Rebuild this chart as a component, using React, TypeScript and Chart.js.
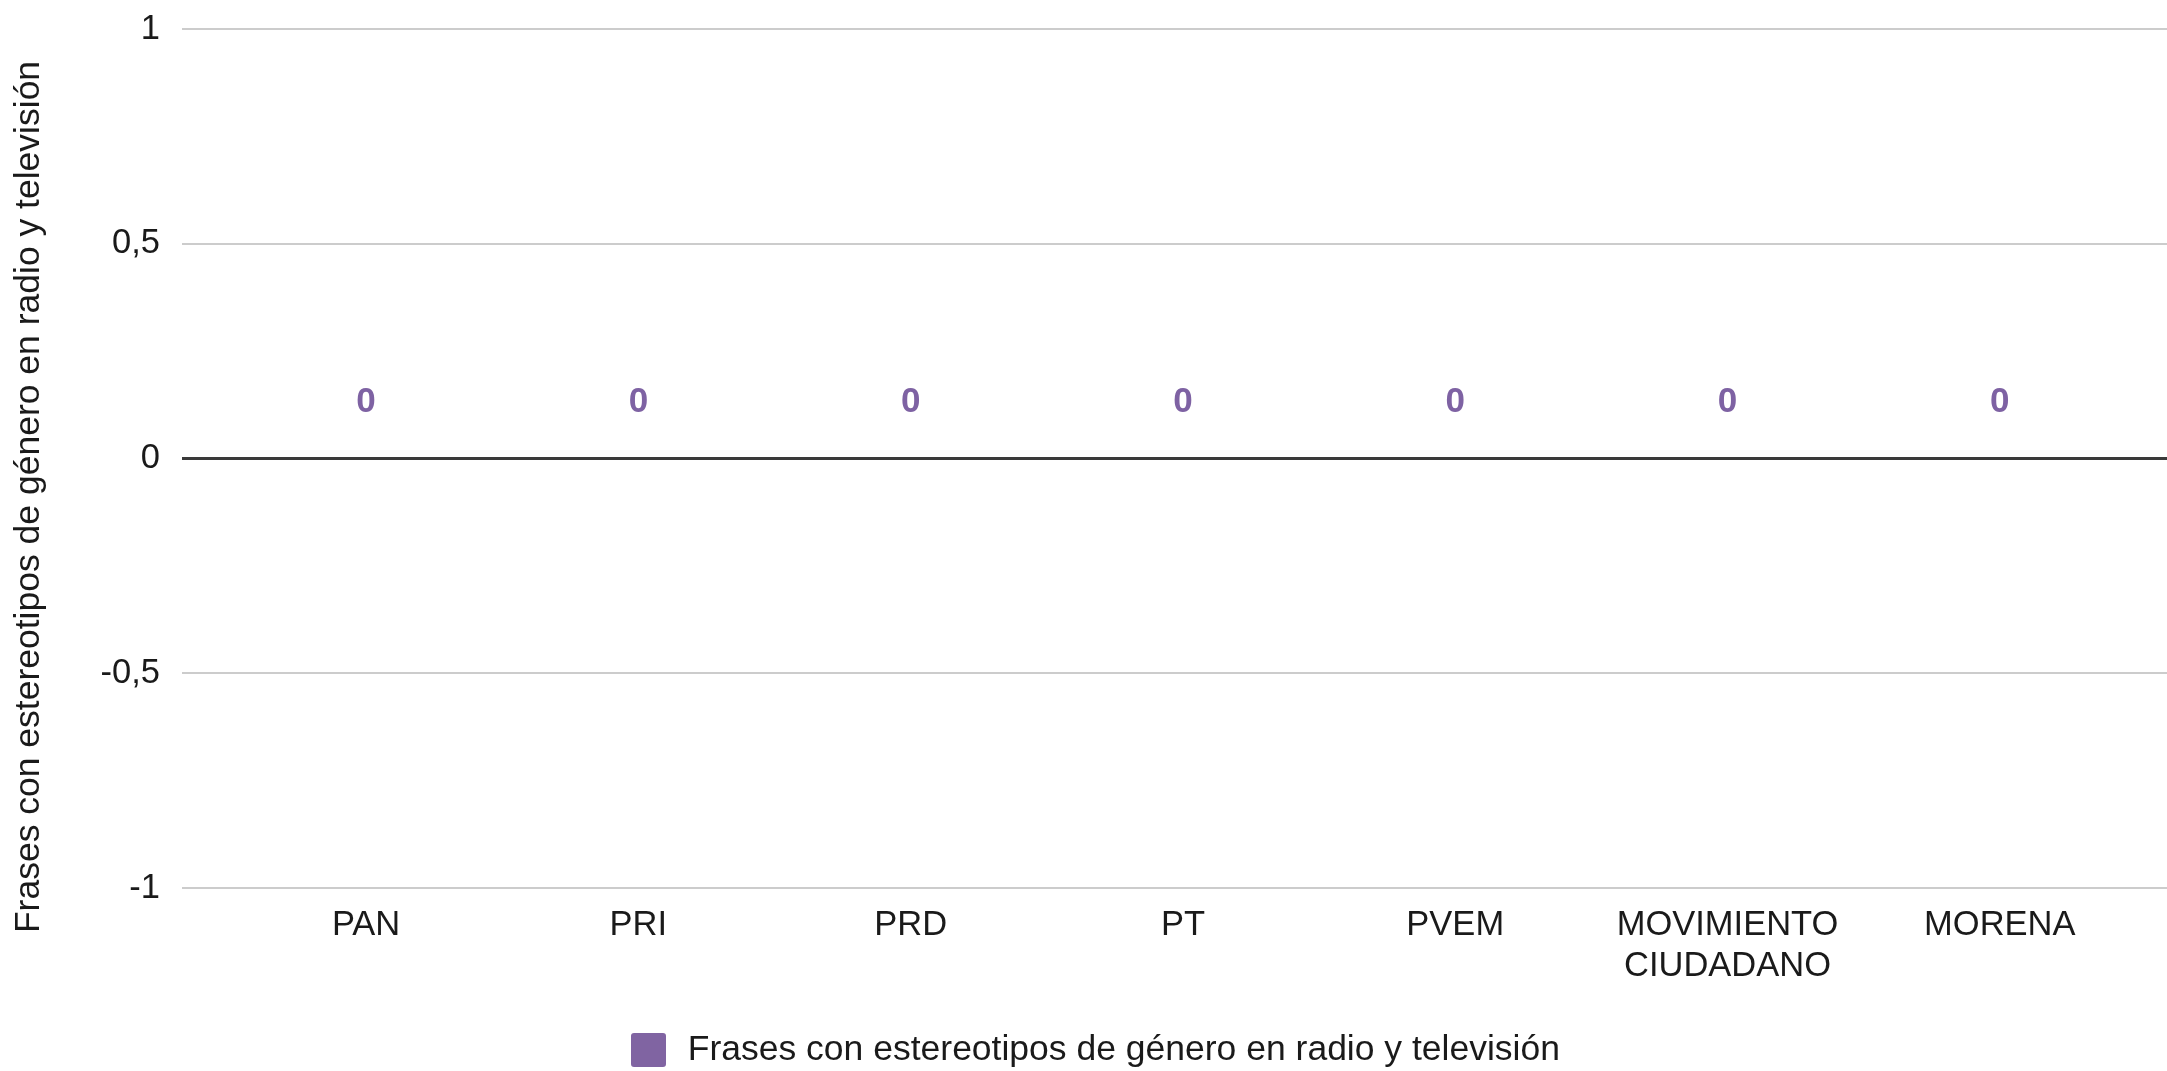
import React, { useEffect, useRef } from 'react';
import { Chart, registerables } from 'chart.js';

Chart.register(...registerables);

// ---- data ----
const categories: (string | string[])[] = [
  'PAN',
  'PRI',
  'PRD',
  'PT',
  'PVEM',
  ['MOVIMIENTO', 'CIUDADANO'],
  'MORENA',
];
const seriesName = 'Frases con estereotipos de género en radio y televisión';
const values: number[] = [0, 0, 0, 0, 0, 0, 0];
const yTickValues: number[] = [-1, -0.5, 0, 0.5, 1];
const yAxisTitle = 'Frases con estereotipos de género en radio y televisión';

// ---- style ----
const FONT = "'Liberation Sans', Arial, Helvetica, sans-serif";
const PURPLE = '#8064a2';
const LABEL_PURPLE = '#7e62a3';
const TEXT = '#1a1a1a';
const TICK_SIZE = 34.5;
const TITLE_SIZE = 35.5;

const valueLabels = {
  id: 'valueLabels',
  afterDatasetsDraw(chart: any) {
    const ctx = chart.ctx;
    const meta = chart.getDatasetMeta(0);
    ctx.save();
    ctx.font = `bold 35px ${FONT}`;
    ctx.fillStyle = LABEL_PURPLE;
    ctx.textAlign = 'center';
    ctx.textBaseline = 'middle';
    meta.data.forEach((el: any, i: number) => {
      ctx.fillText(String(values[i]).replace('.', ','), el.x, el.y - 56);
    });
    ctx.restore();
  },
};

const yTitlePlugin = {
  id: 'yTitlePlugin',
  afterDraw(chart: any) {
    const ctx = chart.ctx;
    ctx.save();
    ctx.translate(29, 497);
    ctx.rotate(-Math.PI / 2);
    ctx.font = `${TITLE_SIZE}px ${FONT}`;
    ctx.fillStyle = TEXT;
    ctx.textAlign = 'center';
    ctx.textBaseline = 'middle';
    ctx.fillText(yAxisTitle, 0, 0);
    ctx.restore();
  },
};

const legendPlace = {
  id: 'legendPlace',
  beforeDraw(chart: any) {
    const lg = chart.legend;
    if (!lg) return;
    const w = lg.right - lg.left;
    const h = lg.bottom - lg.top;
    lg.left = 627;
    lg.right = 627 + w;
    lg.top = 1029;
    lg.bottom = 1029 + h;
  },
};

export default function App() {
  const ref = useRef<HTMLCanvasElement | null>(null);

  useEffect(() => {
    if (!ref.current) return;
    const chart = new Chart(ref.current, {
      type: 'bar',
      data: {
        datasets: [
          {
            label: seriesName,
            data: values.map((v, i) => ({ x: i, y: v })),
            backgroundColor: PURPLE,
            borderWidth: 0,
            borderRadius: 3,
          },
        ],
      },
      options: {
        animation: false,
        responsive: true,
        maintainAspectRatio: false,
        layout: { padding: { top: 29, left: 0, right: 0, bottom: 0 } },
        plugins: {
          tooltip: { enabled: false },
          title: { display: false },
          legend: {
            display: true,
            position: 'bottom',
            align: 'start',
            labels: {
              boxWidth: 43,
              boxHeight: 42,
              padding: 0,
              color: TEXT,
              useBorderRadius: true,
              borderRadius: 7,
              font: { family: FONT, size: TITLE_SIZE },
              generateLabels: (chart: any) => {
                const items = (Chart as any).defaults.plugins.legend.labels.generateLabels(chart);
                items.forEach((it: any) => {
                  it.strokeStyle = '#ffffff';
                  it.lineWidth = 8;
                });
                return items;
              },
            },
          },
        },
        scales: {
          x: {
            type: 'linear',
            offset: false,
            min: -0.676,
            max: 6.614,
            grid: { display: false, drawTicks: false },
            border: { display: false },
            afterFit(scale: any) {
              scale.height = 131;
            },
            ticks: {
              stepSize: 1,
              includeBounds: false,
              autoSkip: false,
              maxRotation: 0,
              minRotation: 0,
              padding: 17,
              color: TEXT,
              font: { family: FONT, size: TICK_SIZE, lineHeight: 41 / TICK_SIZE },
              callback: (v: any) => {
                const n = Number(v);
                return Number.isInteger(n) && categories[n] !== undefined ? (categories[n] as any) : '';
              },
            },
          },
          y: {
            type: 'linear',
            min: -1,
            max: 1,
            afterFit(scale: any) {
              scale.width = 182;
              scale.paddingTop = 0;
              scale.paddingBottom = 0;
            },
            afterBuildTicks(scale: any) {
              scale.ticks = yTickValues.map((v) => ({ value: v }));
            },
            grid: {
              drawTicks: false,
              color: (c: any) => (c.tick && c.tick.value === 0 ? '#3a3a3a' : '#cccccc'),
              lineWidth: (c: any) => (c.tick && c.tick.value === 0 ? 3 : 2),
            },
            border: { display: false },
            ticks: {
              padding: 22,
              color: TEXT,
              font: { family: FONT, size: TICK_SIZE },
              callback: (v: any) => String(v).replace('.', ','),
            },
          },
        },
      },
      plugins: [valueLabels, yTitlePlugin, legendPlace],
    } as any);
    return () => chart.destroy();
  }, []);

  return (
    <div style={{ position: 'fixed', left: 0, top: 0, width: 2167, height: 1071, background: '#ffffff' }}>
      <canvas ref={ref} />
    </div>
  );
}
